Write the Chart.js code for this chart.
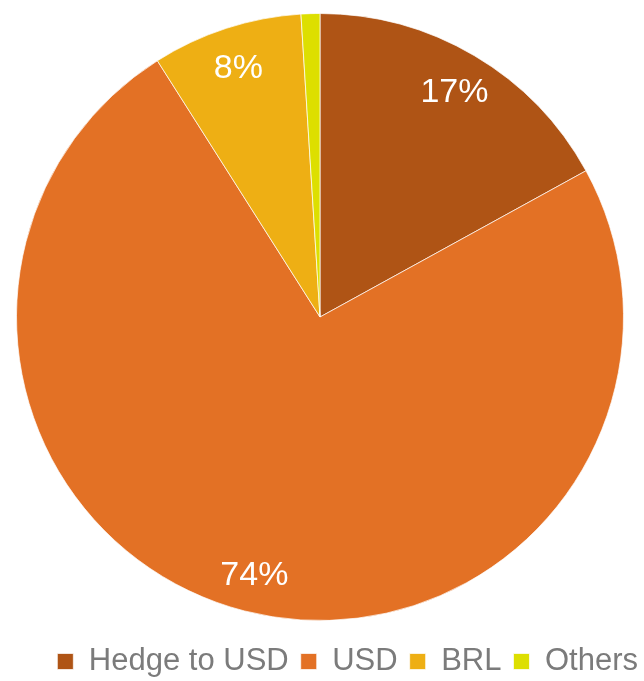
<!DOCTYPE html>
<html>
<head>
<meta charset="utf-8">
<script src="https://cdn.jsdelivr.net/npm/chart.js@4/dist/chart.umd.min.js"></script>
<style>
  html, body { margin: 0; padding: 0; background: #ffffff; }
  #wrap { width: 640px; height: 681px; position: relative; }
</style>
</head>
<body>
<div id="wrap"><canvas id="pie"></canvas></div>
<script>
// Currency exposure breakdown (%)
const categories = ['Hedge to USD', 'USD', 'BRL', 'Others'];
const shares = [17, 74, 8, 1];
const sliceColors = ['#AF5415', '#E37125', '#EEAF14', '#DDDF00'];

// White percentage labels placed inside each slice (tiny slices skipped)
const sliceLabels = {
  id: 'sliceLabels',
  afterDatasetsDraw(chart) {
    const { ctx } = chart;
    const meta = chart.getDatasetMeta(0);
    const data = chart.data.datasets[0].data;
    ctx.save();
    ctx.fillStyle = '#ffffff';
    ctx.font = '34px "Liberation Sans", Arial, sans-serif';
    ctx.textAlign = 'center';
    ctx.textBaseline = 'middle';
    meta.data.forEach((arc, i) => {
      if (data[i] < 3) return;
      const p = arc.getProps(['x', 'y', 'startAngle', 'endAngle', 'outerRadius'], true);
      const mid = (p.startAngle + p.endAngle) / 2;
      const r = p.outerRadius * 0.87;
      // small downward nudge so digits sit visually centred on the anchor
      ctx.fillText(data[i] + '%', p.x + Math.cos(mid) * r, p.y + Math.sin(mid) * r + 3);
    });
    ctx.restore();
  }
};

new Chart(document.getElementById('pie'), {
  type: 'pie',
  data: {
    labels: categories,
    datasets: [{
      data: shares,
      backgroundColor: sliceColors,
      borderColor: 'rgba(255,255,255,0.7)',
      borderWidth: 1
    }]
  },
  options: {
    responsive: true,
    maintainAspectRatio: false,
    animation: false,
    radius: 303.5,
    layout: { padding: { top: 0, right: -10, left: 0, bottom: -6 } },
    plugins: {
      tooltip: { enabled: false },
      legend: {
        position: 'bottom',
        align: 'end',
        labels: {
          color: '#7B7B7B',
          font: { family: '"Liberation Sans", Arial, sans-serif', size: 31 },
          boxWidth: 16,
          boxHeight: 16,
          padding: 12
        }
      }
    }
  },
  plugins: [sliceLabels]
});
</script>
</body>
</html>
